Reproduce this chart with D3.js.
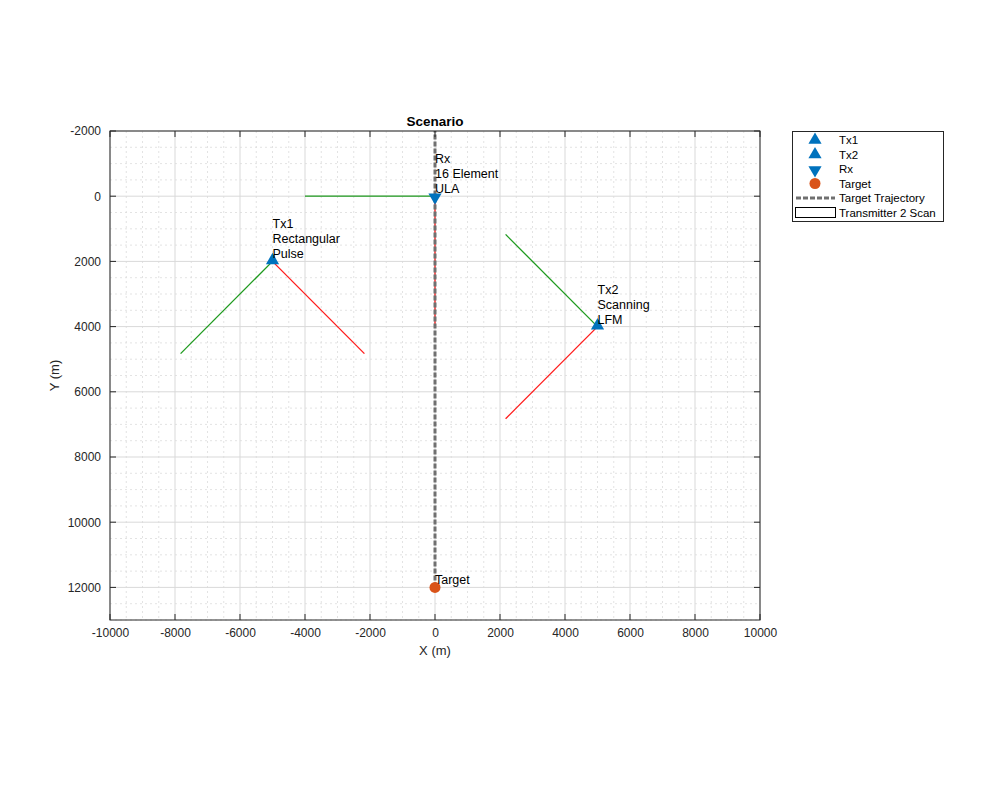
<!DOCTYPE html>
<html><head><meta charset="utf-8">
<script src="https://cdn.jsdelivr.net/npm/d3@7"></script>
<style>body{margin:0;background:#fff;} text{font-family:"Liberation Sans",Arial,sans-serif;}</style>
</head><body>
<script>
// Data
const xTicks = [-10000,-8000,-6000,-4000,-2000,0,2000,4000,6000,8000,10000];
const yTicks = [-2000,0,2000,4000,6000,8000,10000,12000];
const txNames = ["Tx1","Tx2"];
const txX = [-5000, 5000];
const txY = [2000, 4000];
const txLabels = [["Tx1","Rectangular","Pulse"],["Tx2","Scanning","LFM"]];
const rxX = [0], rxY = [0];
const rxLabel = ["Rx","16 Element","ULA"];
const targetX = [0], targetY = [12000];
const trajX = [0, 0], trajY = [12000, -2000];
// beam lines: [x1,y1,x2,y2]
const greenLines = [[-5000,2000,-7828,4828],[0,0,-4000,0],[5000,4000,2172,1172]];
const redLines = [[-5000,2000,-2172,4828],[0,0,0,4000],[5000,4000,2172,6828]];
const legendLabels = ["Tx1","Tx2","Rx","Target","Target Trajectory","Transmitter 2 Scan"];

const W=1000,H=800;
const svg=d3.select("body").append("svg").attr("width",W).attr("height",H);
const L=110,R=760,T=131,B=620;
const x=d3.scaleLinear().domain([-10000,10000]).range([L,R]);
const y=d3.scaleLinear().domain([-2000,13000]).range([T,B]);
const blue="#0072BD", orange="#D95319", green="#1e9a1e", red="#ff1a1a", axc="#262626";
const fmt=d=>String(d);

svg.append("rect").attr("x",L).attr("y",T).attr("width",R-L).attr("height",B-T).attr("fill","#fff");
// minor grid
const xMinor=d3.range(-10000,10001,500).filter(v=>v%2000!==0);
const yMinor=d3.range(-2000,13001,500).filter(v=>v%2000!==0);
const g=svg.append("g");
g.selectAll(".xm").data(xMinor).join("line").attr("x1",d=>x(d)).attr("x2",d=>x(d)).attr("y1",T).attr("y2",B)
 .attr("stroke","#dcdcdc").attr("stroke-width",0.8).attr("stroke-dasharray","2,3");
g.selectAll(".ym").data(yMinor).join("line").attr("y1",d=>y(d)).attr("y2",d=>y(d)).attr("x1",L).attr("x2",R)
 .attr("stroke","#dcdcdc").attr("stroke-width",0.8).attr("stroke-dasharray","2,3");
g.selectAll(".xg").data(xTicks).join("line").attr("x1",d=>x(d)).attr("x2",d=>x(d)).attr("y1",T).attr("y2",B)
 .attr("stroke","#d9d9d9").attr("stroke-width",1);
g.selectAll(".yg").data(yTicks).join("line").attr("y1",d=>y(d)).attr("y2",d=>y(d)).attr("x1",L).attr("x2",R)
 .attr("stroke","#d9d9d9").attr("stroke-width",1);

const clip=svg.append("clipPath").attr("id","c").append("rect").attr("x",L).attr("y",T).attr("width",R-L).attr("height",B-T);
const pg=svg.append("g").attr("clip-path","url(#c)");

pg.selectAll("line.gl").data(greenLines).join("line").attr("class","gl").attr("x1",d=>x(d[0])).attr("y1",d=>y(d[1])).attr("x2",d=>x(d[2])).attr("y2",d=>y(d[3]))
 .attr("stroke",green).attr("stroke-width",1.3);
pg.selectAll("line.rl").data(redLines).join("line").attr("class","rl").attr("x1",d=>x(d[0])).attr("y1",d=>y(d[1])).attr("x2",d=>x(d[2])).attr("y2",d=>y(d[3]))
 .attr("stroke",red).attr("stroke-width",1.3);

// trajectory
pg.append("path").datum(trajX.map((v,i)=>[v,trajY[i]]))
 .attr("d",d3.line().x(d=>x(d[0])).y(d=>y(d[1])))
 .attr("stroke","#707070").attr("stroke-width",3).attr("stroke-dasharray","5,2").attr("fill","none");

const tri=d3.symbol().type(d3.symbolTriangle).size(75);
txX.forEach((v,i)=>{
  pg.append("path").attr("d",tri()).attr("transform",`translate(${x(v)},${y(txY[i])-1})`).attr("fill",blue);
});
rxX.forEach((v,i)=>{
  pg.append("path").attr("d",tri()).attr("transform",`translate(${x(v)},${y(rxY[i])+1}) rotate(180)`).attr("fill",blue);
});
targetX.forEach((v,i)=>{
  pg.append("circle").attr("cx",x(v)).attr("cy",y(targetY[i])).attr("r",5.5).attr("fill",orange);
});

function label(lines,px,py){
  const n=lines.length;
  const t=svg.append("text").attr("font-size",12.5).attr("fill","#000");
  lines.forEach((s,k)=>{
    t.append("tspan").attr("x",px).attr("y",py-3-(n-1-k)*15).text(s);
  });
}
txX.forEach((v,i)=>label(txLabels[i],x(v),y(txY[i])));
label(rxLabel,x(rxX[0]),y(rxY[0]));
label(["Target"],x(targetX[0]),y(targetY[0]));

// axes box
svg.append("rect").attr("x",L).attr("y",T).attr("width",R-L).attr("height",B-T).attr("fill","none").attr("stroke",axc).attr("stroke-width",1);
const xa=svg.append("g").attr("transform",`translate(0,${B})`).call(d3.axisBottom(x).tickValues(xTicks).tickSize(0).tickPadding(8).tickFormat(fmt));
const ya=svg.append("g").attr("transform",`translate(${L},0)`).call(d3.axisLeft(y).tickValues(yTicks).tickSize(0).tickPadding(9).tickFormat(fmt));
[xa,ya].forEach(a=>{a.select(".domain").remove();a.selectAll("text").attr("font-size",12).attr("fill",axc).attr("font-family","Liberation Sans, Arial, sans-serif");});
const tk=svg.append("g").attr("stroke",axc).attr("stroke-width",1);
xTicks.forEach(v=>{tk.append("line").attr("x1",x(v)).attr("x2",x(v)).attr("y1",B).attr("y2",B-6);
  tk.append("line").attr("x1",x(v)).attr("x2",x(v)).attr("y1",T).attr("y2",T+6);});
yTicks.forEach(v=>{tk.append("line").attr("y1",y(v)).attr("y2",y(v)).attr("x1",L).attr("x2",L+6);
  tk.append("line").attr("y1",y(v)).attr("y2",y(v)).attr("x1",R).attr("x2",R-6);});

svg.append("text").attr("x",(L+R)/2).attr("y",126).attr("text-anchor","middle").attr("font-size",13.5).attr("font-weight","bold").attr("fill","#000").text("Scenario");
svg.append("text").attr("x",(L+R)/2).attr("y",655).attr("text-anchor","middle").attr("font-size",13).attr("fill",axc).text("X (m)");
svg.append("text").attr("transform",`translate(59,${(T+B)/2}) rotate(-90)`).attr("text-anchor","middle").attr("font-size",13).attr("fill",axc).text("Y (m)");

// legend
const lg=svg.append("g");
lg.append("rect").attr("x",792.5).attr("y",131.5).attr("width",151).attr("height",90).attr("fill","#fff").attr("stroke",axc).attr("stroke-width",1);
const ly0=140, ldy=14.5, ix=815, tx=839;
legendLabels.forEach((s,i)=>{
  const yy=ly0+i*ldy;
  lg.append("text").attr("x",tx).attr("y",yy+4).attr("font-size",11.5).attr("fill","#000").text(s);
  if(i===0||i===1) lg.append("path").attr("d",tri()).attr("transform",`translate(${ix},${yy})`).attr("fill",blue);
  if(i===2) lg.append("path").attr("d",tri()).attr("transform",`translate(${ix},${yy+1}) rotate(180)`).attr("fill",blue);
  if(i===3) lg.append("circle").attr("cx",ix).attr("cy",yy).attr("r",5.5).attr("fill",orange);
  if(i===4) lg.append("line").attr("x1",796).attr("x2",835).attr("y1",yy).attr("y2",yy).attr("stroke","#707070").attr("stroke-width",3).attr("stroke-dasharray","5,2");
  if(i===5) lg.append("rect").attr("x",795.5).attr("y",yy-5).attr("width",40).attr("height",10).attr("fill","#fff").attr("stroke","#000").attr("stroke-width",1);
});
</script>
</body></html>
